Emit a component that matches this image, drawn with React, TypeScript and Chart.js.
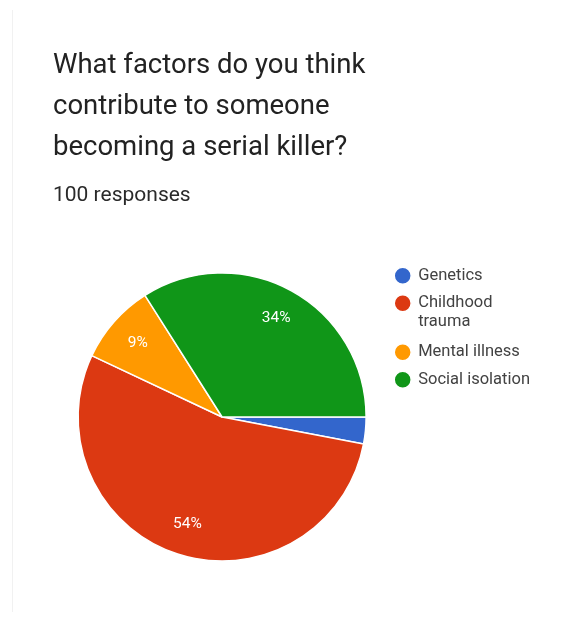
import React, { useEffect, useRef } from "react";
import { Chart, registerables } from "chart.js";

Chart.register(...registerables);

const TITLE_LINES = ["What factors do you think", "contribute to someone", "becoming a serial killer?"];
const SUBTITLE = "100 responses";
const CATEGORIES: (string | string[])[] = ["Genetics", ["Childhood", "trauma"], "Mental illness", "Social isolation"];
const VALUES = [3, 54, 9, 34];
const COLORS = ["#3366cc", "#dc3912", "#ff9900", "#109618"];

const pctPlugin = {
  id: "pctLabels",
  afterDatasetsDraw(chart: any) {
    const meta = chart.getDatasetMeta(0);
    const data = chart.data.datasets[0].data as number[];
    const total = data.reduce((a, b) => a + b, 0);
    const ctx = chart.ctx;
    ctx.save();
    ctx.font = "15.5px Roboto";
    ctx.fillStyle = "#ffffff";
    ctx.textAlign = "center";
    ctx.textBaseline = "middle";
    meta.data.forEach((arc: any, i: number) => {
      const pct = Math.round((data[i] / total) * 100);
      if (pct < 5) return;
      const { startAngle, endAngle, outerRadius, x, y } = arc.getProps(
        ["startAngle", "endAngle", "outerRadius", "x", "y"],
        true
      );
      const mid = (startAngle + endAngle) / 2;
      const r = outerRadius * 0.78;
      ctx.fillText(pct + "%", x + Math.cos(mid) * r, y + Math.sin(mid) * r);
    });
    ctx.restore();
  },
};

export default function App() {
  const canvasRef = useRef<HTMLCanvasElement | null>(null);

  useEffect(() => {
    if (!canvasRef.current) return;
    const chart = new Chart(canvasRef.current, {
      type: "pie",
      data: {
        labels: CATEGORIES as any,
        datasets: [
          {
            data: VALUES,
            backgroundColor: COLORS,
            borderColor: "#ffffff",
            borderWidth: 1.5,
            radius: 144,
          } as any,
        ],
      },
      options: {
        responsive: false,
        animation: false,
        rotation: 90,
        layout: { padding: { top: 256.5, bottom: 39.5, left: 59.75, right: 34 } },
        plugins: {
          legend: {
            position: "right",
            align: "start",
            labels: {
              usePointStyle: true,
              pointStyle: "circle",
              boxWidth: 14.5,
              boxHeight: 12,
              padding: 11,
              color: "#424242",
              font: { family: "Roboto", size: 16.5, lineHeight: 19 / 16.5 },
            },
          },
          tooltip: { enabled: false },
        },
      } as any,
      plugins: [pctPlugin],
    });
    return () => chart.destroy();
  }, []);

  return (
    <div
      style={{
        position: "absolute",
        left: 0,
        top: 0,
        width: 574,
        height: 617,
        background: "#ffffff",
        overflow: "hidden",
        fontFamily: "Roboto, sans-serif",
      }}
    >
      <div
        style={{
          position: "absolute",
          left: 12,
          top: 10,
          width: 1,
          height: 602,
          background: "#f1f1f1",
        }}
      />
      <canvas
        ref={canvasRef}
        width={574}
        height={617}
        style={{ position: "absolute", left: 0, top: 0, width: 574, height: 617 }}
      />
      <div
        style={{
          position: "absolute",
          left: 53,
          top: 43,
          fontSize: 27.5,
          lineHeight: "41px",
          color: "#222222",
          whiteSpace: "nowrap",
        }}
      >
        {TITLE_LINES.map((l, i) => (
          <div key={i}>{l}</div>
        ))}
      </div>
      <div
        style={{
          position: "absolute",
          left: 53,
          top: 182,
          fontSize: 21,
          lineHeight: "24px",
          color: "#2a2a2a",
          whiteSpace: "nowrap",
        }}
      >
        {SUBTITLE}
      </div>
    </div>
  );
}
